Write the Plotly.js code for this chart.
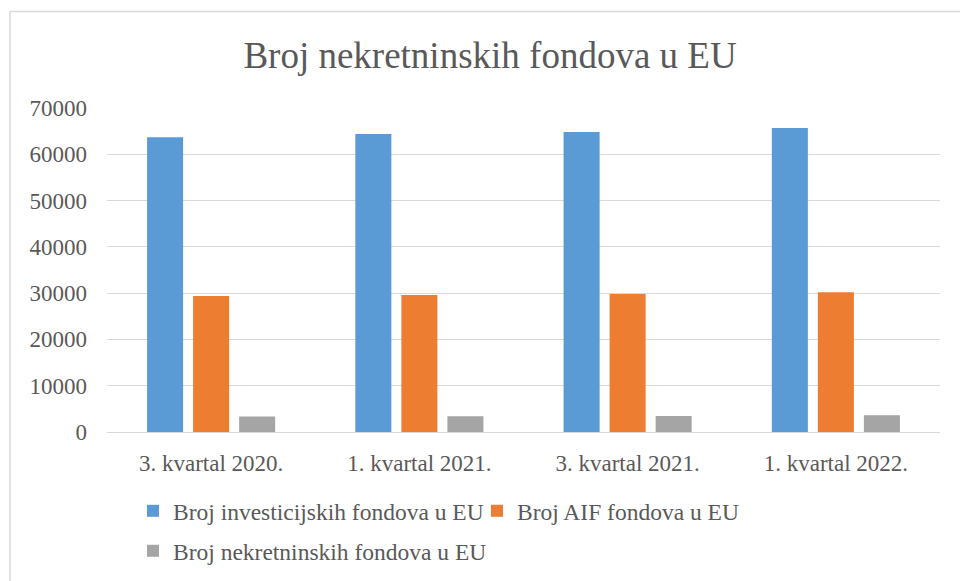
<!DOCTYPE html>
<html>
<head>
<meta charset="utf-8">
<script src="https://cdn.plot.ly/plotly-3.0.1.min.js"></script>
<style>
  html, body { margin: 0; padding: 0; background: #ffffff; }
  #chart { width: 960px; height: 581px; }
</style>
</head>
<body>
<div id="chart"></div>
<script>
// ---- data ----
const categories = ['3. kvartal 2020.', '1. kvartal 2021.', '3. kvartal 2021.', '1. kvartal 2022.'];
const seriesNames = ['Broj investicijskih fondova u EU', 'Broj AIF fondova u EU', 'Broj nekretninskih fondova u EU'];
const investicijski = [63700, 64400, 64800, 65700];
const aif = [29400, 29600, 29800, 30200];
const nekretninski = [3350, 3400, 3460, 3610];
const yTickValues = [0, 10000, 20000, 30000, 40000, 50000, 60000, 70000];
const yTickLabels = ['0', '10000', '20000', '30000', '40000', '50000', '60000', '70000'];

// ---- layout geometry (pixels) ----
const W = 960, H = 581;
const M = { l: 107, r: 20, t: 108, b: 149, autoexpand: false };
const PW = W - M.l - M.r, PH = H - M.t - M.b;
const px2x = p => (p - M.l) / PW;
const py2y = p => (H - M.b - p) / PH;

const FONT = 'Liberation Serif';
const TXT = '#595959';
const colors = ['#5b9bd5', '#ed7d31', '#a5a5a5'];

const traces = [
  { type: 'bar', x: categories, y: investicijski, name: seriesNames[0], marker: { color: colors[0] }, legend: 'legend' },
  { type: 'bar', x: categories, y: aif, name: seriesNames[1], marker: { color: colors[1] }, legend: 'legend2' },
  { type: 'bar', x: categories, y: nekretninski, name: seriesNames[2], marker: { color: colors[2] }, legend: 'legend3' }
];

function legendAt(xp, yp) {
  return {
    x: px2x(xp), y: py2y(yp), xref: 'paper', yref: 'paper',
    xanchor: 'left', yanchor: 'middle', orientation: 'h',
    bgcolor: 'rgba(0,0,0,0)', borderwidth: 0,
    font: { family: FONT, size: 23.5, color: TXT }
  };
}

const layout = {
  width: W, height: H,
  margin: M,
  paper_bgcolor: '#ffffff', plot_bgcolor: '#ffffff',
  font: { family: FONT, color: TXT, size: 23.5 },
  title: {
    text: 'Broj nekretninskih fondova u EU',
    font: { family: FONT, size: 37, color: TXT },
    x: 490 / W, xanchor: 'center', xref: 'container',
    y: 1 - 55 / H, yanchor: 'middle', yref: 'container'
  },
  barmode: 'group',
  bargap: 0.337,
  bargroupgap: 0.217,
  showlegend: true,
  legend: legendAt(133, 511),
  legend2: legendAt(477, 511),
  legend3: legendAt(133, 551),
  xaxis: {
    type: 'category',
    showgrid: false,
    showline: true, linecolor: '#d9d9d9', linewidth: 1,
    ticks: '',
    tickfont: { family: FONT, size: 23, color: TXT },
    ticklabelstandoff: 10,
    automargin: false,
    fixedrange: true
  },
  yaxis: {
    range: [0, 70000],
    tickvals: yTickValues, ticktext: yTickLabels,
    showgrid: true, gridcolor: '#d9d9d9', gridwidth: 1,
    zeroline: false, showline: false,
    ticks: '',
    tickfont: { family: FONT, size: 23, color: TXT },
    ticklabelstandoff: 19,
    automargin: false,
    fixedrange: true
  },
  shapes: [
    { type: 'line', xref: 'paper', yref: 'paper', x0: px2x(10), x1: px2x(960), y0: py2y(11.5), y1: py2y(11.5), line: { color: '#d9d9d9', width: 1.5 } },
    { type: 'line', xref: 'paper', yref: 'paper', x0: px2x(10), x1: px2x(10), y0: py2y(11.5), y1: py2y(581), line: { color: '#d9d9d9', width: 1.5 } }
  ]
};

Plotly.newPlot('chart', traces, layout, { displayModeBar: false, staticPlot: true });
</script>
</body>
</html>
